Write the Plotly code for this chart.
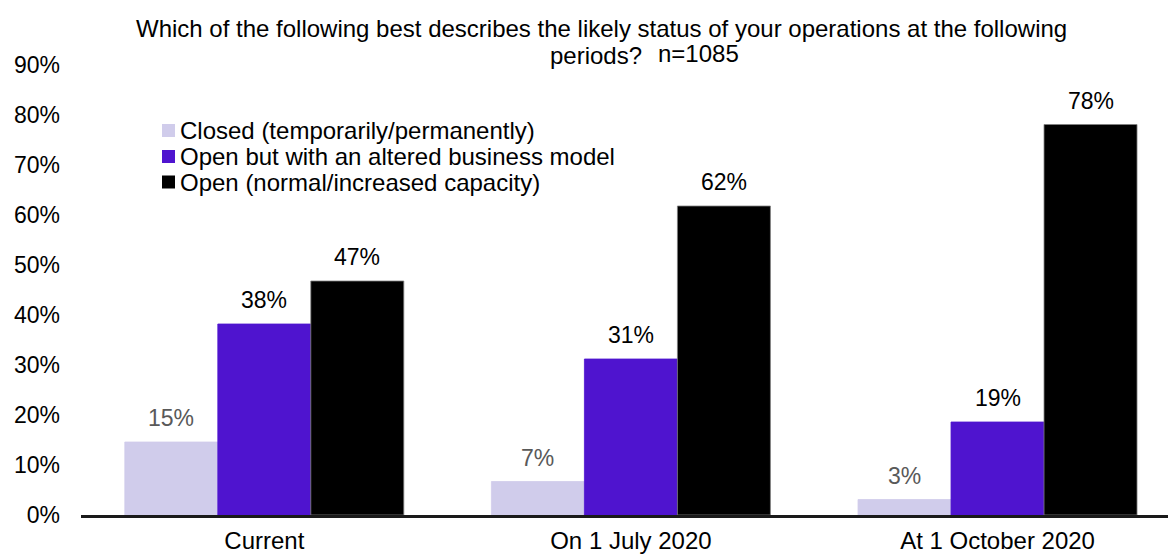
import plotly.graph_objects as go

categories = ["Current", "On 1 July 2020", "At 1 October 2020"]
series_names = ["Closed (temporarily/permanently)",
                "Open but with an altered business model",
                "Open (normal/increased capacity)"]
closed = [14.6, 6.7, 3.1]
altered = [38.2, 31.2, 18.6]
open_normal = [46.8, 61.8, 78.1]
y_ticks = [0, 10, 20, 30, 40, 50, 60, 70, 80, 90]
y_tick_labels = ["0%", "10%", "20%", "30%", "40%", "50%", "60%", "70%", "80%", "90%"]
title_line1 = "Which of the following best describes the likely status of your operations at the following"
title_line2 = "periods?"
sample_note = "n=1085"

colors = ["#D0CCEB", "#4F14CF", "#000000"]
label_colors = ["#595959", "#000000", "#000000"]
FONT = "Arial, Liberation Sans, sans-serif"

W, H = 1168, 554
ml, mr, mt, mb = 81, 0, 65, 39
x_range = [-0.5, 2.465]
bargap = 0.239
plot_w = W - ml - mr
plot_h = H - mt - mb


def px_x(px):
    return (px - ml) / plot_w


def px_y(py):
    return (H - mb - py) / plot_h


fig = go.Figure()
all_series = [closed, altered, open_normal]
for name, vals, col in zip(series_names, all_series, colors):
    fig.add_trace(go.Bar(
        x=categories, y=vals, name=name,
        marker=dict(color=col,
                    line=dict(color="#808080" if col == "#000000" else col, width=0.8)),
        hoverinfo="skip", showlegend=False,
    ))

# data labels
px_per_unit = plot_w / (x_range[1] - x_range[0])
bar_w_px = px_per_unit * (1 - bargap) / 3
annotations = []
for j, vals in enumerate(all_series):
    for cat, v in zip(categories, vals):
        annotations.append(dict(
            x=cat, y=v, xref="x", yref="y", text=f"{v:.0f}%",
            showarrow=False, xanchor="center", yanchor="middle",
            xshift=(j - 1) * bar_w_px, yshift=24,
            font=dict(family=FONT, size=23, color=label_colors[j]),
        ))

# title
annotations += [
    dict(x=px_x(601), y=px_y(29), xref="paper", yref="paper", text=title_line1,
         showarrow=False, xanchor="center", yanchor="middle",
         font=dict(family=FONT, size=24, color="#000")),
    dict(x=px_x(595.5), y=px_y(55), xref="paper", yref="paper", text=title_line2,
         showarrow=False, xanchor="center", yanchor="middle",
         font=dict(family=FONT, size=24, color="#000")),
    dict(x=px_x(656), y=px_y(53.5), xref="paper", yref="paper", text=sample_note,
         showarrow=False, xanchor="left", yanchor="middle",
         font=dict(family=FONT, size=24, color="#000")),
]

# manual legend
shapes = []
legend_rows_px = [130.5, 156.5, 182]
for name, col, ry in zip(series_names, colors, legend_rows_px):
    shapes.append(dict(type="rect", xref="paper", yref="paper",
                       x0=px_x(162), x1=px_x(175), y0=px_y(ry + 6.5), y1=px_y(ry - 6.5),
                       fillcolor=col, line=dict(width=0)))
    annotations.append(dict(x=px_x(178), y=px_y(ry), xref="paper", yref="paper",
                            text=name, showarrow=False, xanchor="left", yanchor="middle",
                            font=dict(family=FONT, size=24, color="#000")))

fig.update_layout(
    width=W, height=H,
    margin=dict(l=ml, r=mr, t=mt, b=mb, pad=0, autoexpand=False),
    paper_bgcolor="white", plot_bgcolor="white",
    barmode="group", bargap=bargap, bargroupgap=0,
    font=dict(family=FONT, size=23, color="#000"),
    showlegend=False,
    annotations=annotations,
    shapes=shapes,
    xaxis=dict(range=x_range, showline=True, linecolor="#1a1a1a", linewidth=3,
               ticks="", showgrid=False, zeroline=False, automargin=False,
               tickfont=dict(family=FONT, size=24, color="#000"),
               ticklabelstandoff=2, fixedrange=True),
    yaxis=dict(range=[0, 90], tickvals=y_ticks, ticktext=y_tick_labels,
               showgrid=False, zeroline=False, showline=False, ticks="", automargin=False,
               tickfont=dict(family=FONT, size=23, color="#000"),
               ticklabelstandoff=20, fixedrange=True),
)

fig.write_html("out.html", config={"displayModeBar": False})
